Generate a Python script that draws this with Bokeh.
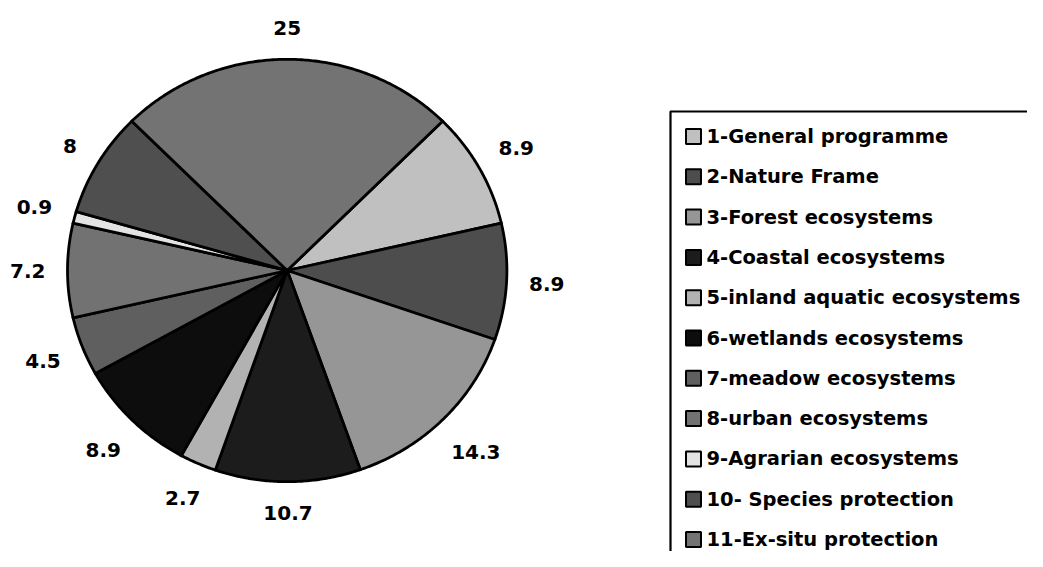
import numpy as np
from bokeh.plotting import figure
from bokeh.models import ColumnDataSource, Range1d
from bokeh.core.properties import value
from bokeh.embed import file_html
from bokeh.resources import INLINE

# ---- data ----
categories = ["1-General programme", "2-Nature Frame", "3-Forest ecosystems",
              "4-Coastal ecosystems", "5-inland aquatic ecosystems",
              "6-wetlands ecosystems", "7-meadow ecosystems", "8-urban ecosystems",
              "9-Agrarian ecosystems", "10- Species protection", "11-Ex-situ protection"]
shares = [8.9, 8.9, 14.3, 10.7, 2.7, 8.9, 4.5, 7.2, 0.9, 8.0, 25.0]
share_labels = ["8.9", "8.9", "14.3", "10.7", "2.7", "8.9", "4.5", "7.2", "0.9", "8", "25"]
colors = ["#C0C0C0", "#4D4D4D", "#969696", "#1C1C1C", "#B2B2B2", "#0D0D0D",
          "#5F5F5F", "#727272", "#E3E3E3", "#4F4F4F", "#737373"]

# ---- layout ----
W, H = 1027, 551
def X(sx):
    return sx
def Y(sy):
    return H - sy

p = figure(width=W, height=H, x_range=Range1d(0, W), y_range=Range1d(0, H),
           output_backend="svg", toolbar_location=None, min_border=0,
           x_axis_location=None, y_axis_location=None)
p.grid.visible = False
p.outline_line_color = None
p.background_fill_color = "white"

FONT = value("DejaVu Sans")

# pie (slightly elliptical, as in the reference)
cx, cy = X(286.7), Y(270.0)
rx, ry = 219.7, 211.2
start_deg = 45.0
vals = np.array(shares, dtype=float)
fr = vals / vals.sum()
ends = start_deg + np.cumsum(fr) * 360.0
starts = ends - fr * 360.0

xs, ys = [], []
for a0, a1 in zip(starts, ends):
    n = max(4, int(abs(a1 - a0) * 2))
    t = np.radians(np.linspace(a0, a1, n))
    xs.append([cx] + list(cx + rx * np.sin(t)) + [cx])
    ys.append([cy] + list(cy + ry * np.cos(t)) + [cy])

p.patches(xs=xs, ys=ys, fill_color=colors, line_color="black", line_width=2.8,
          line_join="miter")

# data labels: box centre pushed out from the rim by gap + box support
LABEL_PX = 20.0
adv = {"0": 0.696, "1": 0.696, "2": 0.696, "3": 0.696, "4": 0.696, "5": 0.696,
       "6": 0.696, "7": 0.696, "8": 0.696, "9": 0.696, ".": 0.380}
gap = 22.0
half_h = 0.729 * LABEL_PX / 2 + 2.2
lx, ly = [], []
for a0, a1, txt in zip(starts, ends, share_labels):
    m = np.radians((a0 + a1) / 2.0)
    s, c = np.sin(m), np.cos(m)
    half_w = sum(adv[ch] for ch in txt) * LABEL_PX / 2
    d = gap + half_w * abs(s) + half_h * abs(c)
    lx.append(cx + rx * s + d * s)
    ly.append(cy + ry * c + d * c)

lab_src = ColumnDataSource(dict(x=lx, y=ly, t=share_labels))
p.text(x="x", y="y", text="t", text_align="center", text_baseline="middle",
       source=lab_src, text_font=FONT, text_font_style="bold",
       text_font_size=f"{LABEL_PX:g}px", text_color="black")

# legend (drawn by hand; box runs off the right/bottom edge as in the reference)
p.quad(left=X(670), right=W + 60, top=Y(111), bottom=-60,
       fill_color=None, line_color="black", line_width=2.2)

row0, step = 136.0, 40.3
rows = [row0 + i * step for i in range(len(categories))]
p.rect(x=[X(693)] * len(rows), y=[Y(r) for r in rows], width=15, height=15,
       fill_color=colors, line_color="black", line_width=2)
LEG_PX = 19.5
leg_src = ColumnDataSource(dict(x=[X(706)] * len(rows),
                                y=[Y(r) for r in rows],
                                t=categories))
p.text(x="x", y="y", text="t", source=leg_src, text_align="left",
       text_baseline="middle", text_font=FONT, text_font_style="bold",
       text_font_size=f"{LEG_PX:g}px", text_color="black")

open("out.html", "w").write(file_html(p, INLINE))
